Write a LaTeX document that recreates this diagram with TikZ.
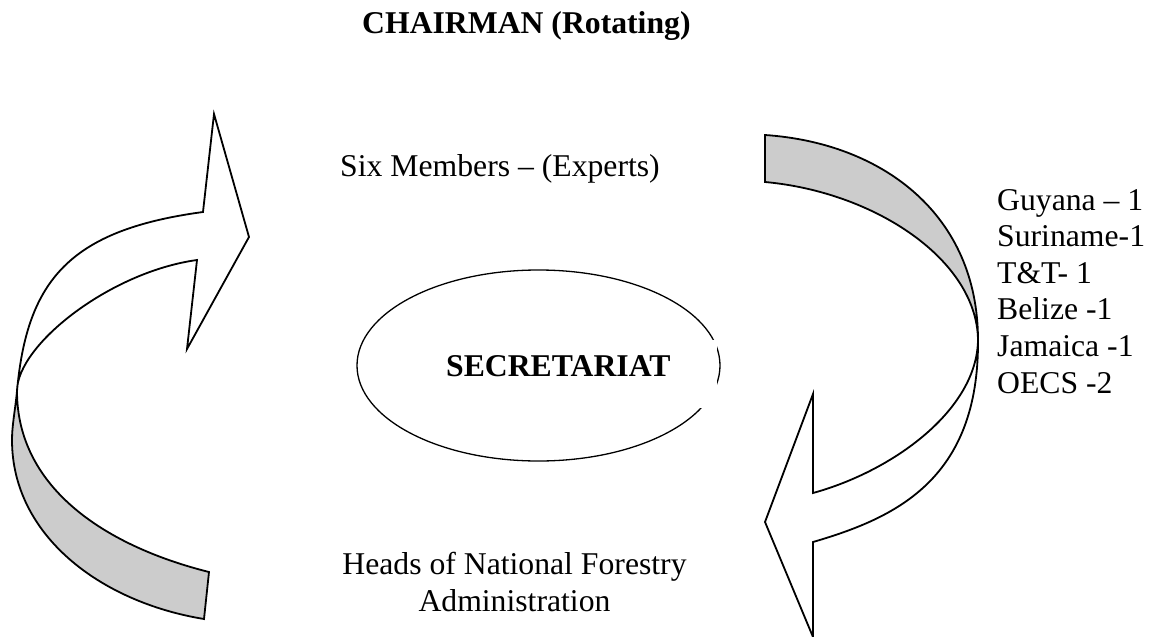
\documentclass[tikz,border=0pt]{standalone}
\usepackage{fontspec}
\setmainfont{Liberation Serif}
\usetikzlibrary{shapes.geometric}
\definecolor{bandgray}{RGB}{204,204,204}
\begin{document}
\begin{tikzpicture}[x=1pt,y=-1pt,
  outline/.style={draw=black, line width=1.8pt, line join=miter},
  backband/.style={outline, fill=bandgray},
  frontband/.style={outline, fill=white},
  txt/.style={inner sep=0pt, font=\fontsize{31.7}{36.6}\selectfont},
  btxt/.style={inner sep=0pt, font=\fontsize{31.7}{36.6}\selectfont\bfseries},
  oval/.style={draw=black, line width=1.3pt, ellipse, inner sep=0pt}]
\useasboundingbox (0,0) rectangle (1160,637);

% ---------- left curved arrow ----------
\coordinate (J1) at (203,212);
\coordinate (J2) at (197,260);
\coordinate (T1) at (214,114);
\coordinate (T2) at (249,237);
\coordinate (T3) at (187,349);
\coordinate (C)  at (17,391);
\coordinate (L)  at (12,440);
\coordinate (B1) at (204,619);
\coordinate (B2) at (209,572);
\draw[backband] (C) .. controls (15.5,408) and (12,425) .. (L)
  .. controls (12,535) and (100,602) .. (B1) -- (B2)
  .. controls (109,547) and (17,490) .. (C) -- cycle;
\draw[frontband] (J1) .. controls (70,230) and (27,280) .. (C)
  .. controls (17,345) and (110,272) .. (J2) -- (T3) -- (T2) -- (T1) -- cycle;

% ---------- right curved arrow ----------
\coordinate (G1) at (765,135);
\coordinate (G2) at (765,182);
\coordinate (C2) at (978,340);
\coordinate (J3) at (813,493);
\coordinate (J4) at (813,542);
\coordinate (H1) at (813,394);
\coordinate (H2) at (765,522);
\coordinate (H3) at (813,637);
\draw[backband] (G1) .. controls (883,143) and (978,215) .. (C2)
  .. controls (977,260) and (875,192) .. (G2) -- cycle;
\draw[frontband] (C2) .. controls (977,410) and (893,471) .. (J3)
  -- (H1) -- (H2) -- (H3) -- (J4)
  .. controls (895,518) and (979,480) .. (C2) -- cycle;

% ---------- secretariat ----------
\node[oval, minimum width=363pt, minimum height=191pt] (ov) at (538.5,365.5) {};
\fill[white] (430,340) rectangle (717,408);
\node[btxt, anchor=base west] (sec) at (446,376) {SECRETARIAT};

% ---------- texts ----------
\node[btxt, anchor=base west] (chair) at (362,33) {CHAIRMAN (Rotating)};
\node[txt, anchor=base west] (six) at (340,176) {Six Members – (Experts)};
\node[txt, anchor=base] (heads1) at (514.5,574) {Heads of National Forestry};
\node[txt, anchor=base] (heads2) at (514.5,611) {Administration};
\node[txt, anchor=base west] (m1) at (997,210) {Guyana – 1};
\node[txt, anchor=base west] (m2) at (997,246.6) {Suriname-1};
\node[txt, anchor=base west] (m3) at (997,283.2) {T\&T- 1};
\node[txt, anchor=base west] (m4) at (997,319.8) {Belize -1};
\node[txt, anchor=base west] (m5) at (997,356.4) {Jamaica -1};
\node[txt, anchor=base west] (m6) at (997,393) {OECS -2};
\end{tikzpicture}
\end{document}
